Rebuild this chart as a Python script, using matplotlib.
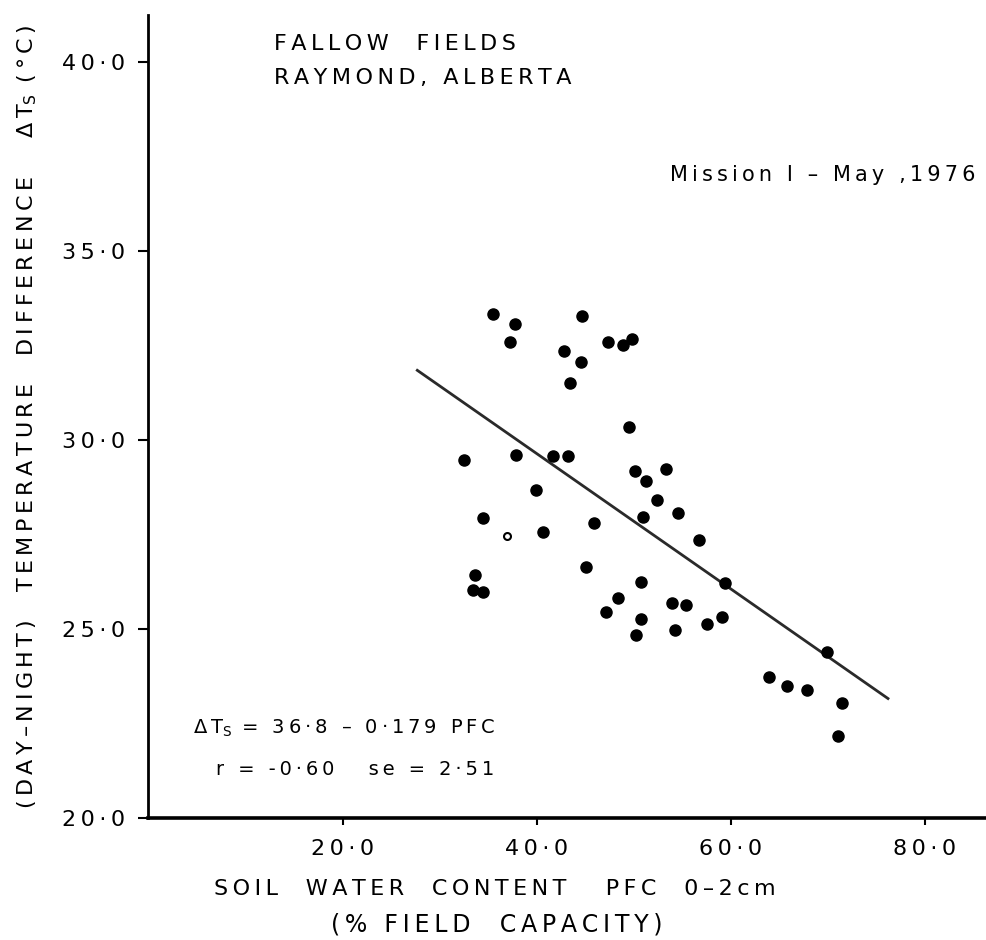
import matplotlib.pyplot as plt

# soil water content (% field capacity) and day-night surface temp difference (deg C)
pfc = [35.5, 37.8, 37.3, 44.7, 47.4, 48.9, 49.8, 42.8, 44.6, 43.4,
       49.5, 32.5, 37.9, 41.7, 43.2, 50.1, 51.3, 53.3, 39.9, 52.4,
       54.6, 34.5, 40.7, 45.9, 51.0, 56.7, 45.1, 33.6, 33.4, 34.5,
       50.8, 59.4, 48.4, 47.1, 50.7, 50.2, 53.9, 55.4, 54.3, 57.5,
       59.1, 69.9, 63.9, 65.8, 67.9, 71.5, 71.1]
dts = [33.33, 33.08, 32.59, 33.28, 32.59, 32.51, 32.68, 32.35, 32.06, 31.50,
       30.34, 29.47, 29.61, 29.58, 29.58, 29.18, 28.92, 29.23, 28.68, 28.40,
       28.08, 27.94, 27.56, 27.80, 27.95, 27.35, 26.64, 26.44, 26.04, 25.98,
       26.24, 26.22, 25.81, 25.44, 25.26, 24.83, 25.70, 25.63, 24.97, 25.12,
       25.31, 24.39, 23.73, 23.50, 23.38, 23.04, 22.17]
# one point printed as an open symbol
pfc_open = [36.9]
dts_open = [27.47]

# regression  dTs = 36.8 - 0.179 PFC, drawn over this range
fit_a, fit_b = 36.8, -0.179
fit_x = [27.7, 76.2]

x_ticks = [20, 40, 60, 80]
x_ticklabels = ['20·0', '40·0', '60·0', '80·0']
y_ticks = [20, 25, 30, 35, 40]
y_ticklabels = ['20·0', '25·0', '30·0', '35·0', '40·0']

TS = '\u2009'   # thin space, used as letter spacing (the original is hand lettered)
SUB_S = r'$_\mathregular{S}$'


def sp(s):
    return TS.join(s)


fig = plt.figure(figsize=(9.86, 9.4), dpi=100)
ax = fig.add_axes([0.1506, 0.1298, 0.8494, 0.8542])

ax.plot(fit_x, [fit_a + fit_b * x for x in fit_x], color='#2a2a2a', lw=2.0)
ax.plot(pfc, dts, 'o', color='black', ms=8, mec='black')
ax.plot(pfc_open, dts_open, 'o', mfc='white', mec='black', ms=5, mew=1.5)

ax.set_xlim(0, 86.3)
ax.set_ylim(20, 41.24)
for side in ['top', 'right']:
    ax.spines[side].set_visible(False)
ax.spines['left'].set_linewidth(2)
ax.spines['bottom'].set_linewidth(2.6)

ax.set_xticks(x_ticks)
ax.set_xticklabels([sp(t) for t in x_ticklabels])
ax.set_yticks(y_ticks)
ax.set_yticklabels([sp(t) for t in y_ticklabels])
ax.tick_params(axis='x', direction='out', length=5, width=1.5, pad=10, labelsize=16)
ax.tick_params(axis='y', direction='out', length=7, width=1.5, pad=10, labelsize=16)

fig.text(0.278, 0.953, sp('FALLOW  FIELDS'), fontsize=16, va='center')
fig.text(0.278, 0.917, sp('RAYMOND, ALBERTA'), fontsize=16, va='center')
fig.text(0.989, 0.814, sp('Mission I – May ,1976'), fontsize=15, va='center', ha='right')
fig.text(0.196, 0.2255, sp('ΔT') + SUB_S + sp(' = 36·8 – 0·179 PFC'),
         fontsize=14, va='center')
fig.text(0.219, 0.181, sp('r = -0·60   se = 2·51'), fontsize=14, va='center')

fig.text(0.502, 0.0543, sp('SOIL  WATER  CONTENT   PFC  0–2cm'), fontsize=16,
         ha='center', va='center')
fig.text(0.504, 0.0165, sp('(% FIELD  CAPACITY)'), fontsize=17,
         ha='center', va='center')
fig.text(0.028, 0.557,
         sp('(DAY–NIGHT)  TEMPERATURE  DIFFERENCE   ΔT') + SUB_S + sp(' (°C)'),
         fontsize=16, rotation=90, ha='center', va='center')

fig.savefig('out.png', dpi=100)
